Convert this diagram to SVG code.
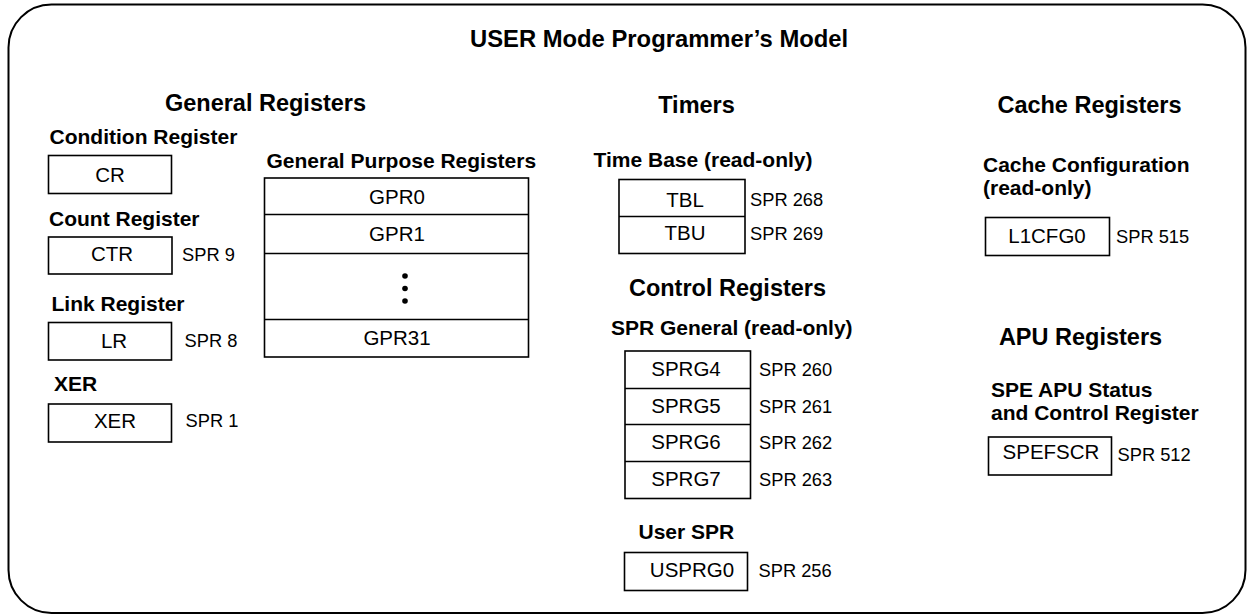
<svg xmlns="http://www.w3.org/2000/svg" width="1247" height="615" viewBox="0 0 1247 615">
<style>
text{font-family:"Liberation Sans",Arial,Helvetica,sans-serif;fill:#000}
.title{font-size:23.8px;font-weight:bold}
.sec{font-size:23.5px;font-weight:bold;text-anchor:middle}
.sub{font-size:21px;font-weight:bold}
.reg{font-size:20.5px;text-anchor:middle}
.spr{font-size:18.3px}
.box{fill:#fff;stroke:#000;stroke-width:1.6}
.div{stroke:#000;stroke-width:1.4;fill:none}
</style>
<rect id="frame" x="8.5" y="4.5" width="1237" height="608.5" rx="43" ry="43" fill="#fff" stroke="#000" stroke-width="2"/>
<text class="title" x="470" y="47">USER Mode Programmer’s Model</text>

<g id="general-registers">
<text class="sec" x="265.5" y="111">General Registers</text>
<g id="cr">
<text class="sub" x="49.5" y="144">Condition Register</text>
<rect class="box" x="48.5" y="155.5" width="123" height="38"/>
<text class="reg" x="110" y="182">CR</text>
</g>
<g id="ctr">
<text class="sub" x="49" y="226">Count Register</text>
<rect class="box" x="48.5" y="237" width="123.5" height="37"/>
<text class="reg" x="112" y="261">CTR</text>
<text class="spr" x="182" y="261">SPR 9</text>
</g>
<g id="lr">
<text class="sub" x="51.5" y="311">Link Register</text>
<rect class="box" x="48.5" y="322.5" width="123" height="37.5"/>
<text class="reg" x="114" y="348">LR</text>
<text class="spr" x="184.5" y="347">SPR 8</text>
</g>
<g id="xer">
<text class="sub" x="54" y="391">XER</text>
<rect class="box" x="48.5" y="404" width="123" height="38"/>
<text class="reg" x="115" y="428">XER</text>
<text class="spr" x="185.5" y="427">SPR 1</text>
</g>
<g id="gpr">
<text class="sub" x="266.5" y="168">General Purpose Registers</text>
<rect class="box" x="264.5" y="178" width="264" height="179"/>
<line class="div" x1="264.5" y1="214.5" x2="528.5" y2="214.5"/>
<line class="div" x1="264.5" y1="253.5" x2="528.5" y2="253.5"/>
<line class="div" x1="264.5" y1="319.5" x2="528.5" y2="319.5"/>
<text class="reg" x="397" y="203.5">GPR0</text>
<text class="reg" x="397" y="240.5">GPR1</text>
<circle cx="405" cy="276" r="2.8"/>
<circle cx="405" cy="288.5" r="2.8"/>
<circle cx="405" cy="301" r="2.8"/>
<text class="reg" x="397" y="345">GPR31</text>
</g>
</g>

<g id="timers">
<text class="sec" x="696.5" y="113">Timers</text>
<g id="time-base">
<text class="sub" x="593.5" y="167">Time Base (read-only)</text>
<rect class="box" x="619" y="179.5" width="126" height="74"/>
<line class="div" x1="619" y1="216.5" x2="745" y2="216.5"/>
<text class="reg" x="685" y="206.5">TBL</text>
<text class="reg" x="685" y="239.5">TBU</text>
<text class="spr" x="750" y="206">SPR 268</text>
<text class="spr" x="750" y="240">SPR 269</text>
</g>
</g>

<g id="control-registers">
<text class="sec" x="727.5" y="296">Control Registers</text>
<g id="sprg">
<text class="sub" x="611" y="335">SPR General (read-only)</text>
<rect class="box" x="625" y="351" width="125.5" height="147.5"/>
<line class="div" x1="625" y1="388.5" x2="750.5" y2="388.5"/>
<line class="div" x1="625" y1="424.5" x2="750.5" y2="424.5"/>
<line class="div" x1="625" y1="461.5" x2="750.5" y2="461.5"/>
<text class="reg" x="686" y="376">SPRG4</text>
<text class="reg" x="686" y="412.5">SPRG5</text>
<text class="reg" x="686" y="449">SPRG6</text>
<text class="reg" x="686" y="486">SPRG7</text>
<text class="spr" x="759" y="376">SPR 260</text>
<text class="spr" x="759" y="412.5">SPR 261</text>
<text class="spr" x="759" y="449">SPR 262</text>
<text class="spr" x="759" y="486">SPR 263</text>
</g>
<g id="usprg0">
<text class="sub" x="638.5" y="539">User SPR</text>
<rect class="box" x="624.5" y="552.5" width="123" height="38"/>
<text class="reg" x="692" y="577">USPRG0</text>
<text class="spr" x="758.5" y="577">SPR 256</text>
</g>
</g>

<g id="cache-registers">
<text class="sec" x="1089.5" y="113">Cache Registers</text>
<g id="l1cfg0">
<text class="sub" x="983" y="172">Cache Configuration</text>
<text class="sub" x="983" y="195">(read-only)</text>
<rect class="box" x="985.5" y="217.5" width="124" height="38"/>
<text class="reg" x="1047" y="243">L1CFG0</text>
<text class="spr" x="1116" y="243">SPR 515</text>
</g>
</g>

<g id="apu-registers">
<text class="sec" x="1080.5" y="345">APU Registers</text>
<g id="spefscr">
<text class="sub" x="991" y="397">SPE APU Status</text>
<text class="sub" x="991" y="420">and Control Register</text>
<rect class="box" x="988.5" y="437" width="123" height="38"/>
<text class="reg" x="1051" y="459">SPEFSCR</text>
<text class="spr" x="1117.5" y="461">SPR 512</text>
</g>
</g>
</svg>
